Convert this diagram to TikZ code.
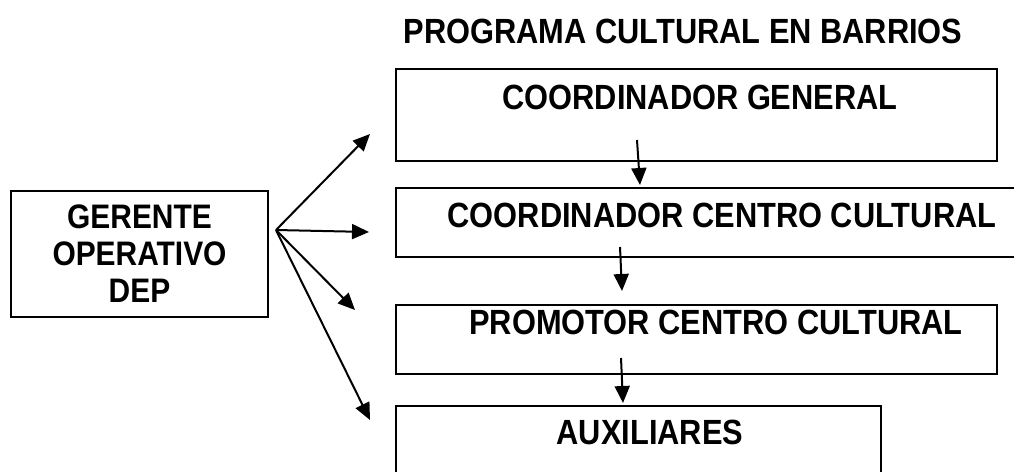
\documentclass[tikz,border=0pt]{standalone}
\usepackage{fontspec}
\setmainfont{Liberation Sans}[FakeStretch=0.88]
\usetikzlibrary{arrows.meta}
\usetikzlibrary{positioning}

\tikzset{
  box/.style={draw, line width=2pt, anchor=north west, inner sep=0pt},
  lbl/.style={font=\fontsize{35}{40}\selectfont\bfseries, inner sep=0pt},
  flecha/.style={line width=2pt, -{Triangle[length=17pt,width=15pt]}}
}

\begin{document}
\begin{tikzpicture}[x=1pt, y=-1pt]
  \clip (0,0) rectangle (1014,471);
  \node[lbl] (titulo) at (683,31) {PROGRAMA CULTURAL EN BARRIOS};
  % cajas de la derecha
  \node[box, minimum width=601pt, minimum height=92pt] (cg) at (395,68) {};
  \node[box, minimum width=650pt, minimum height=69pt] (ccc) at (395,187) {};
  \node[box, minimum width=601pt, minimum height=69pt] (pcc) at (395,304) {};
  \node[box, minimum width=485pt, minimum height=100pt] (aux) at (395,405) {};
  \node[lbl] (cgtxt) at (700,97) {COORDINADOR GENERAL};
  \node[lbl] (ccctxt) at (722,215) {COORDINADOR CENTRO CULTURAL};
  \node[lbl] (pcctxt) at (716,322) {PROMOTOR CENTRO CULTURAL};
  \node[lbl] (auxtxt) at (650,432) {AUXILIARES};
  % gerente
  \node[draw, line width=2pt, minimum width=257pt, minimum height=126pt,
        align=center, font=\fontsize{34}{37}\selectfont\bfseries] (ger)
        at (139.5,254) {GERENTE\\OPERATIVO\\DEP};
  \coordinate (hub) at (276,230);
  \coordinate (t1) at (370,134);
  \coordinate (t2) at (369,232);
  \coordinate (t3) at (355,310);
  \coordinate (t4) at (370,420);
  \foreach \to in {t1,t2,t3,t4}
   \draw[flecha] (hub) -- (\to);
  % flechas verticales
  \coordinate (a1) at (637,140);
  \coordinate (b1) at (640,185);
  \coordinate (a2) at (620,247);
  \coordinate (b2) at (622,291);
  \coordinate (a3) at (621,358);
  \coordinate (b3) at (623,403);
  \foreach \from/\to in {a1/b1, a2/b2, a3/b3}
   \draw[flecha] (\from) -- (\to);
\end{tikzpicture}
\end{document}
